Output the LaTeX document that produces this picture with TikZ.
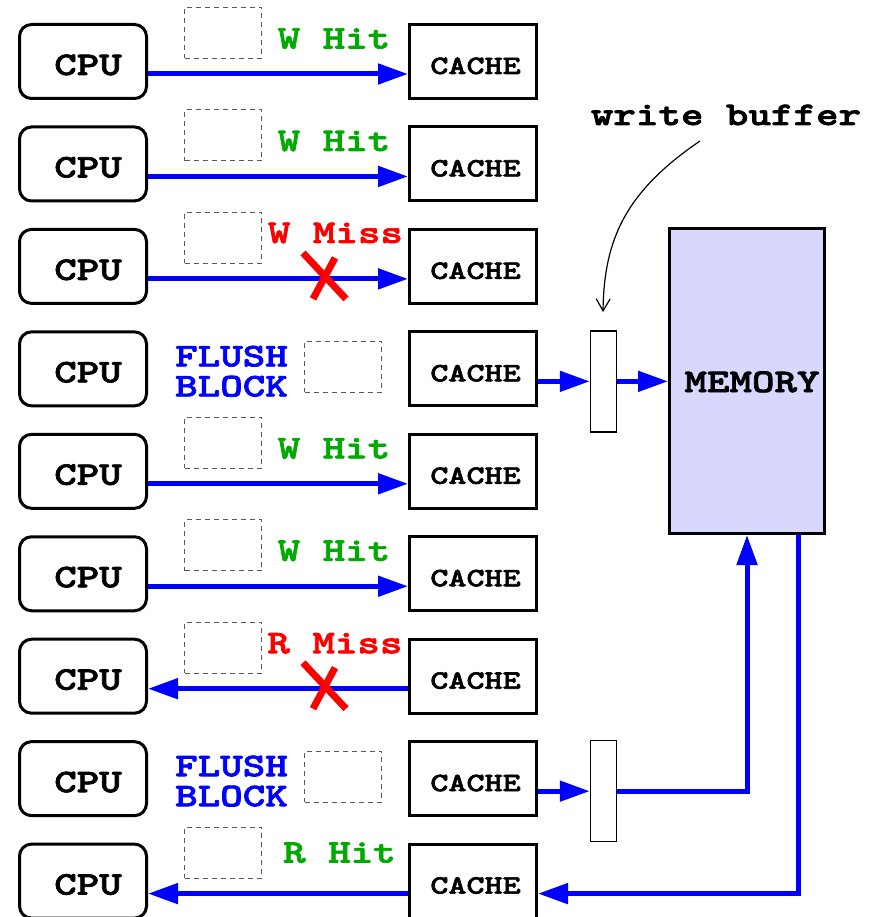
\documentclass[tikz,border=0pt]{standalone}
\usepackage{fontspec}
\newfontfamily\courbf{lmmonolt10-bold}[Extension=.otf,FakeStretch=1.3,FakeBold=2.2]
\usetikzlibrary{arrows.meta,calc}
\definecolor{fblue}{RGB}{0,0,255}
\definecolor{fgreen}{RGB}{0,170,0}
\definecolor{fred}{RGB}{255,0,0}
\definecolor{memfill}{RGB}{216,216,255}
\definecolor{dgray}{RGB}{90,90,90}
\begin{document}
\begin{tikzpicture}[x=1pt,y=-1pt,
  cpubox/.style={draw,line width=3pt,rounded corners=12pt,minimum width=127pt,minimum height=74pt,inner sep=0pt},
  cachebox/.style={draw,line width=3pt,minimum width=127pt,minimum height=74pt,inner sep=0pt},
  bufbox/.style={draw,line width=1.5pt,fill=white,minimum width=26pt,minimum height=101pt,inner sep=0pt},
  membox/.style={draw,line width=3pt,fill=memfill,minimum width=155pt,minimum height=305pt,inner sep=0pt},
  dbox/.style={draw=dgray,line width=1pt,dash pattern=on 5pt off 4pt,minimum width=77pt,minimum height=51pt,inner sep=0pt},
  txt/.style={font={\courbf\fontsize{33}{28}\selectfont},anchor=base,inner sep=0pt},
  cputxt/.style={txt,font={\courbf\fontsize{33}{28}\selectfont}},
  cachetxt/.style={txt,font={\courbf\fontsize{26.5}{28}\selectfont}},
  flow/.style={draw=fblue,line width=5pt,-{Triangle[length=30pt,width=20pt]}},
  xmark/.style={draw=fred,line width=7pt},
  note/.style={draw=black,line width=1.2pt,-{Straight Barb[length=12pt,width=14pt]}}
]
\useasboundingbox (0,0) rectangle (871,917);

\foreach \i in {1,...,9}{
  \pgfmathsetmacro\rt{23+(\i-1)*102.45}
  \node[cpubox] (cpu\i) at (83,\rt+38.5) {};
  \node[cputxt] (cput\i) at (88,\rt+52) {CPU};
  \node[cachebox] (cache\i) at (473,\rt+38.5) {};
  \node[cachetxt] (cachet\i) at (475.5,\rt+51) {CACHE};
  \coordinate (ya\i) at (0,\rt+51);
}

\foreach \i in {1,2,3,5,6,7,9}{
  \pgfmathsetmacro\rt{23+(\i-1)*102.45}
  \node[dbox] (db\i) at (223,\rt+10) {};
}
\foreach \i in {4,8}{
  \pgfmathsetmacro\rt{23+(\i-1)*102.45}
  \node[dbox] (db\i) at (343,\rt+36.5) {};
  \node[txt,text=fblue] (fl\i) at (231.5,\rt+36) {FLUSH};
  \node[txt,text=fblue] (bl\i) at (231.5,\rt+66) {BLOCK};
}
\foreach \i in {1,2,5,6}{
  \pgfmathsetmacro\rt{23+(\i-1)*102.45}
  \node[txt,text=fgreen] (lb\i) at (334,\rt+25.5) {W Hit};
}
\node[txt,text=fred] (lb3) at (335.5,23+2*102.45+15) {W Miss};
\node[txt,text=fred] (lb7) at (335,23+6*102.45+15.5) {R Miss};
\node[txt,text=fgreen] (lb9) at (339.5,23+8*102.45+20) {R Hit};

% memory and write buffers
\node[membox] (mem) at (747,381) {};
\node[txt] (memt) at (752,392) {MEMORY};
\node[bufbox] (buf1) at (603.5,381.5) {};
\node[bufbox] (buf2) at (603.5,791) {};

% flows
\foreach \i in {1,2,3,5,6}{
  \draw[flow] (cpu\i.east |- ya\i) -- (cache\i.west |- ya\i);
}
\foreach \i in {7,9}{
  \draw[flow] (cache\i.west |- ya\i) -- (cpu\i.east |- ya\i);
}
\draw[flow] (cache4.east |- ya4) -- (buf1.west |- ya4);
\draw[flow] (buf1.east |- ya4) -- (mem.west |- ya4);
\draw[flow] (cache8.east |- ya8) -- (buf2.west |- ya8);
\draw[flow] (buf2.east |- ya8) -| (mem.south);
\coordinate (mo) at (798,0);
\draw[flow] (mem.south -| mo) |- (cache9.east |- ya9);

% X marks
\foreach \i in {3,7}{
  \pgfmathsetmacro\ay{23+(\i-1)*102.45+51}
  \draw[xmark] (303,\ay-26) -- (346,\ay+20);
  \draw[xmark] (335,\ay-21) -- (313,\ay+20);
}

% write buffer annotation
\node[txt] (wbt) at (726,125) {write buffer};
\coordinate (wbs) at (700,141);
\coordinate (wbe) at (603,312);
\draw[note] (wbs) .. controls (625,192) and (604,240) .. (wbe);
\end{tikzpicture}
\end{document}
